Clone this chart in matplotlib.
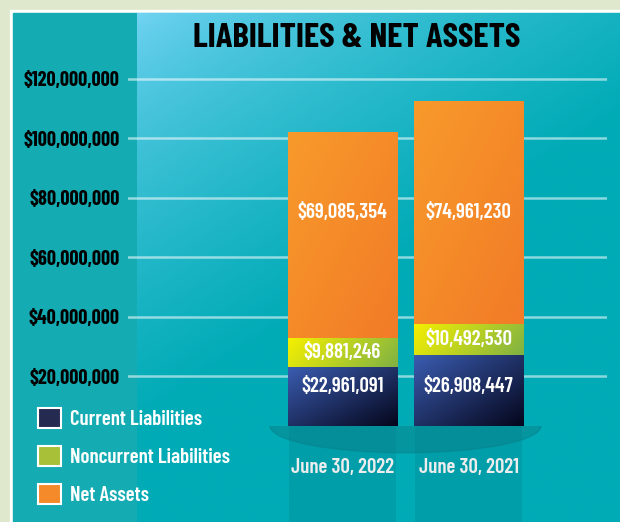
import numpy as np
import matplotlib
matplotlib.use("Agg")
import matplotlib.pyplot as plt
from matplotlib.patches import Rectangle, Ellipse, Patch
from matplotlib.colors import to_rgb

dates = ["June 30, 2022", "June 30, 2021"]
current = [22961091, 26908447]
noncurrent = [9881246, 10492530]
net_assets = [69085354, 74961230]
series_names = ["Current Liabilities", "Noncurrent Liabilities", "Net Assets"]
yticks = [20e6, 40e6, 60e6, 80e6, 100e6, 120e6]

FONT = ["Barlow Condensed", "DejaVu Sans"]
plt.rcParams["font.family"] = FONT


def gradient(c0, c1, n=64, wx=1.0, wy=1.0):
    # diagonal blend, top-left c0 -> bottom-right c1
    u = np.linspace(0, 1, n)
    t = (wx * u[None, :] + wy * u[:, None]) / (wx + wy)
    a, b = np.array(to_rgb(c0)), np.array(to_rgb(c1))
    return a * (1 - t[..., None]) + b * t[..., None]


fig = plt.figure(figsize=(6.2, 5.22), dpi=100, facecolor="#dfe8cc")

# background panel
bg = fig.add_axes([0, 0, 1, 1])
bg.axis("off")
bg.add_patch(Rectangle((10, 10), 612, 514, color="white"))
bg.add_patch(Rectangle((13, 13), 610, 512, color="#14abb2"))
u = np.linspace(0, 1, 200)
t = np.clip(0.75 * u[None, :] + 1.25 * u[:, None], 0, 1) ** 0.7
c0, c1 = np.array(to_rgb("#74d4f4")), np.array(to_rgb("#00abb6"))
bg.imshow(c0 * (1 - t[..., None]) + c1 * t[..., None],
          extent=[137, 620, 522, 13], aspect="auto", zorder=1)
bg.set_xlim(0, 620)
bg.set_ylim(522, 0)

fig.text(0.576, 0.927, "LIABILITIES & NET ASSETS", ha="center", va="center",
         fontsize=25, fontweight="bold", color="black")

ax = fig.add_axes([128 / 620, 96 / 522, 479 / 620, 365.3 / 522])
ax.patch.set_alpha(0)
x = np.arange(len(dates))
w = 0.865
y0, y1 = 3.2e6, 126e6

cols = [("#3a5cb0", "#05061c", 1, 1),
        ("#f6f000", "#7fb244", 1.6, 0.4),
        ("#f89a2b", "#f27b27", 1, 1)]
bottoms = np.zeros(len(dates))
for vals, (ca, cb, wx, wy) in zip([current, noncurrent, net_assets], cols):
    bars = ax.bar(x, vals, w, bottom=bottoms, color=cb, zorder=3)
    for b in bars:
        bx, by = b.get_x(), b.get_y()
        im = ax.imshow(gradient(ca, cb, wx=wx, wy=wy), aspect="auto", zorder=3.1,
                       extent=[bx, bx + b.get_width(), max(by, y0), by + b.get_height()])
        im.set_clip_path(b)
    bottoms += np.array(vals)

# shadow + reflections under the bars
ax.bar(x, -40e6, w * 0.98, bottom=y0, color="black", alpha=0.07,
       clip_on=False, zorder=2)
sh = Ellipse((0.5, y0), 2.15, 18e6, color="#08808a", alpha=0.5, zorder=2.5)
ax.add_patch(sh)
sh.set_clip_path(Rectangle((-3, y0 - 40e6), 6, 40e6, transform=ax.transData))
sh.set_clip_on(True)

# value labels
wk = dict(ha="center", va="center", color="white", fontsize=15,
          fontweight=600, zorder=5)
cur = np.array(current)
non = np.array(noncurrent)
net = np.array(net_assets)
for i in range(len(dates)):
    ax.text(x[i], cur.min() - 6.5e6, f"${current[i]:,}", **wk)
    ax.text(x[i], cur[i] + non[i] / 2, f"${noncurrent[i]:,}", **wk)
    ax.text(x[i], (cur + non + net / 2).max(), f"${net_assets[i]:,}", **wk)

ax.set_ylim(y0, y1)
ax.set_xlim(-1.702, 2.099)
ax.set_yticks(yticks, [f"${v:,.0f}" for v in yticks])
ax.set_xticks(x, dates)
ax.tick_params(axis="y", length=0, pad=6, labelsize=14.5)
ax.tick_params(axis="x", length=0, pad=23, labelsize=15, labelcolor="white")
for lab in ax.get_yticklabels():
    lab.set_fontweight("bold")
for lab in ax.get_xticklabels():
    lab.set_fontweight(600)
ax.yaxis.grid(True, color="white", alpha=0.55, lw=1.8, zorder=0)
ax.set_axisbelow(True)
for s in ax.spines.values():
    s.set_visible(False)

handles = [Patch(facecolor=c, edgecolor="white", lw=1.5)
           for c in ["#252a50", "#a8c038", "#f58a2a"]]
fig.legend(handles, series_names, loc="upper left",
           bbox_to_anchor=(38 / 620, 1 - 408 / 522), frameon=False,
           borderpad=0, borderaxespad=0, handlelength=1.1, handleheight=1.1,
           handletextpad=0.45, labelspacing=0.82, labelcolor="white",
           prop=dict(family=FONT, weight=600, size=15))

fig.savefig("out.png", dpi=100, facecolor=fig.get_facecolor())
